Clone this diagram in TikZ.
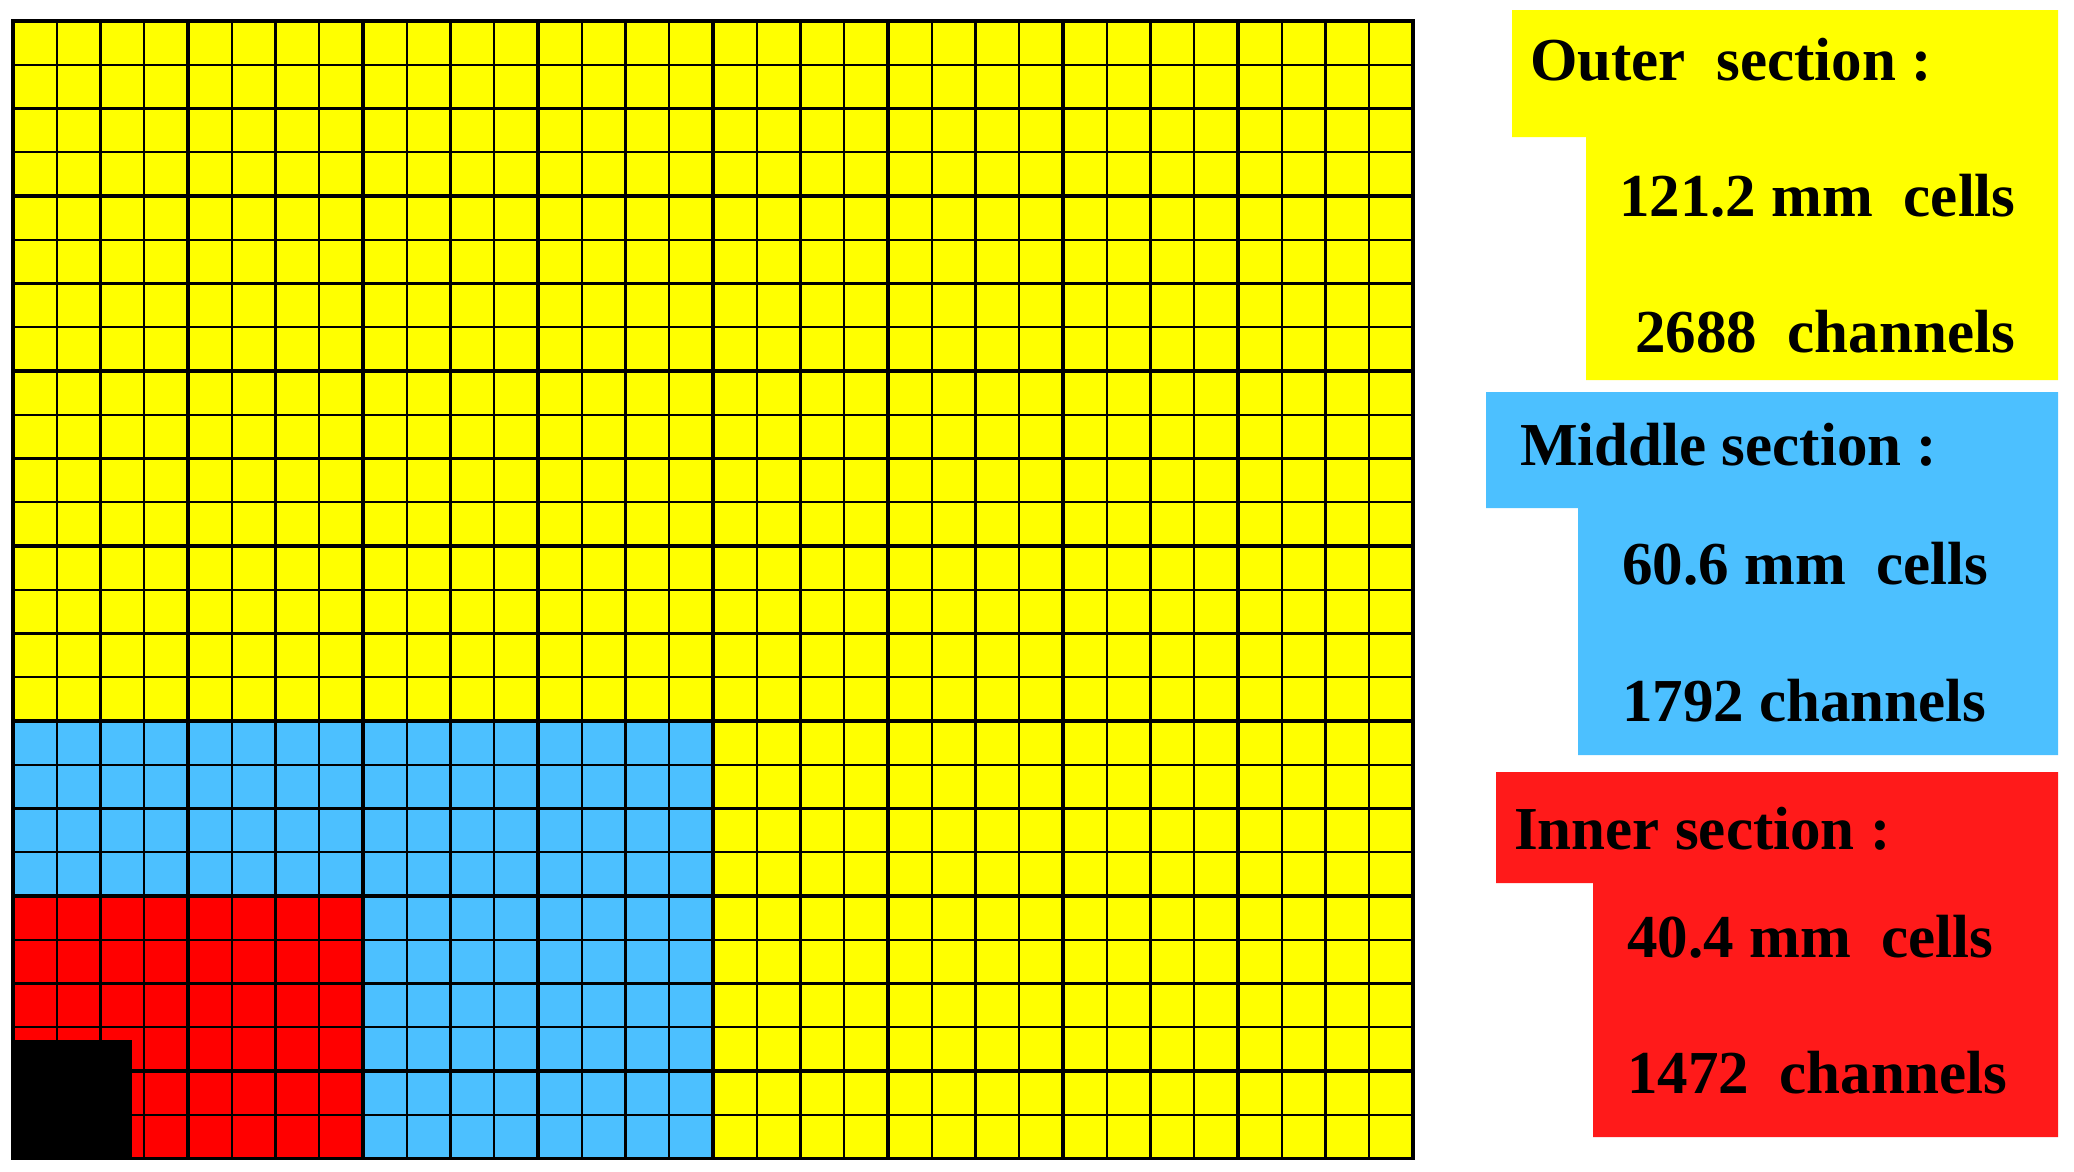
\documentclass[tikz,border=0pt]{standalone}
\usepackage{fontspec}
\setmainfont{Liberation Serif}
\definecolor{cyel}{HTML}{FFFF00}
\definecolor{cblu}{HTML}{4CC0FF}
\definecolor{cred}{HTML}{FF0000}
\definecolor{lred}{HTML}{FF1A1A}
\begin{document}
\begin{tikzpicture}[x=1pt,y=-1pt,
  lab/.style={anchor=base west, inner sep=0pt, font=\fontsize{61}{70}\selectfont\bfseries},
  thinline/.style={line width=2.4pt, black},
  thickline/.style={line width=3.2pt, black}]
\useasboundingbox (0,0) rectangle (2074,1171);
% grid fills
\fill[cyel] (13,21) rectangle (1413,1158.5);
\fill[cblu] (13,721) rectangle (713,1158.5);
\fill[cred] (13,896) rectangle (363,1158.5);
% grid lines
\foreach \i in {0,...,32} \draw[thinline] ({13+\i*43.75},21) -- ({13+\i*43.75},1158.5);
\foreach \j in {0,...,26} \draw[thinline] (13,{21+\j*43.75}) -- (1413,{21+\j*43.75});
\foreach \i in {0,2,...,32} \draw[thickline] ({13+\i*43.75},21) -- ({13+\i*43.75},1158.5);
\foreach \j in {0,2,...,26} \draw[thickline] (13,{21+\j*43.75}) -- (1413,{21+\j*43.75});
\draw[thickline] (13,21) rectangle (1413,1158.5);
% black square
\fill[black] (12,1040) rectangle (132,1159.5);
% label panels
\fill[cyel] (1512,10) -- (2058,10) -- (2058,380) -- (1586,380) -- (1586,137) -- (1512,137) -- cycle;
\fill[cblu] (1486,392) -- (2058,392) -- (2058,755) -- (1578,755) -- (1578,508) -- (1486,508) -- cycle;
\fill[lred] (1496,772) -- (2058,772) -- (2058,1137) -- (1593,1137) -- (1593,883) -- (1496,883) -- cycle;
% texts
\node[lab] (outerT) at (1530,80) {Outer\ \ section :};
\node[lab] (outerC) at (1619,216) {121.2 mm\ \ cells};
\node[lab] (outerN) at (1635,352) {2688\ \ channels};
\node[lab] (midT) at (1520,465) {Middle section :};
\node[lab] (midC) at (1622,584) {60.6 mm\ \ cells};
\node[lab] (midN) at (1622,721) {1792 channels};
\node[lab] (innT) at (1514,849) {Inner section :};
\node[lab] (innC) at (1627,957) {40.4 mm\ \ cells};
\node[lab] (innN) at (1627,1093) {1472\ \ channels};
\end{tikzpicture}
\end{document}
